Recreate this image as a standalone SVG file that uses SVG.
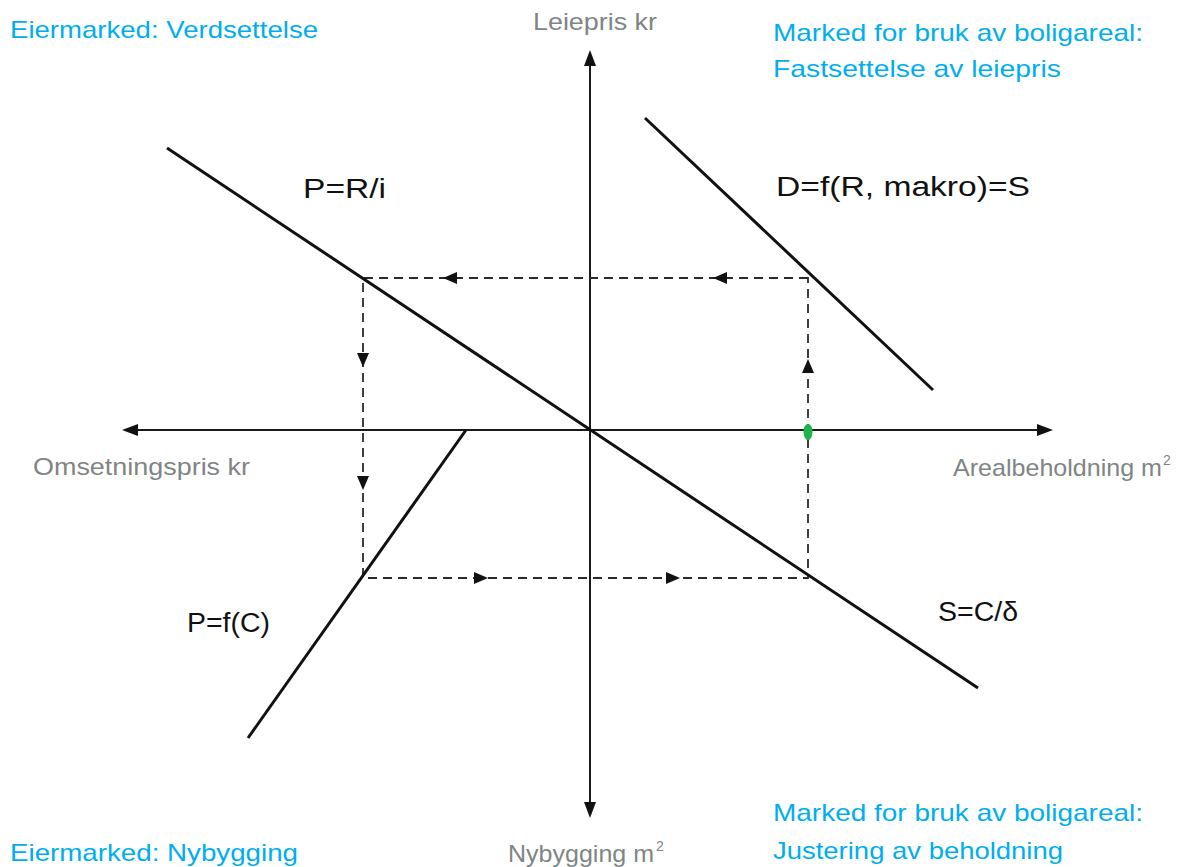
<svg xmlns="http://www.w3.org/2000/svg" width="1200" height="867" viewBox="0 0 1200 867">
<style>
.blue{font-family:"Liberation Sans","Open Sans",sans-serif;font-size:24px;fill:#00aeef}
.gray{font-family:"Liberation Sans","Open Sans",sans-serif;font-size:24px;fill:#7f8585}
.blk{font-family:"Liberation Sans","Open Sans",sans-serif;font-size:27px;fill:#111}
.sup{font-family:"Liberation Sans","Open Sans",sans-serif;font-size:14px;fill:#7f8585}
.axis{stroke:#1a1a1a;stroke-width:2;fill:none}
.curve{stroke:#111;stroke-width:3;fill:none}
.dash{stroke:#2a2a2a;stroke-width:1.8;fill:none;stroke-dasharray:9 6}
.ah{fill:#111}
</style>
<rect width="1200" height="867" fill="#fff"/>
<g id="connectors">
<line class="axis" x1="135" y1="430" x2="1040" y2="430"/>
<line class="axis" x1="590" y1="64" x2="590" y2="804"/>
<polygon class="ah" points="122,430 138,424 138,436"/>
<polygon class="ah" points="1053,430 1037,424 1037,436"/>
<polygon class="ah" points="590,50 584,66 596,66"/>
<polygon class="ah" points="590,818 584,802 596,802"/>
<path class="dash" d="M808,278 L363,278 L363,578 L808,578 Z"/>
<polygon class="ah" points="443,278 457,272 457,284"/>
<polygon class="ah" points="713,278 727,272 727,284"/>
<polygon class="ah" points="363,367 357,353 369,353"/>
<polygon class="ah" points="363,490 357,476 369,476"/>
<polygon class="ah" points="488,578 474,572 474,584"/>
<polygon class="ah" points="680,578 666,572 666,584"/>
<polygon class="ah" points="808,359 802,373 814,373"/>
<ellipse cx="808" cy="432" rx="4.5" ry="8" fill="#1db34a"/>
</g>
<g id="curve-PRi"><line class="curve" x1="167" y1="148" x2="978" y2="688"/></g>
<g id="curve-D"><line class="curve" x1="645" y1="118" x2="933" y2="390"/></g>
<g id="curve-PfC"><line class="curve" x1="466" y1="430" x2="248" y2="738"/></g>
<g id="labels">
<text class="blue" x="10" y="38" textLength="308" lengthAdjust="spacingAndGlyphs">Eiermarked: Verdsettelse</text>
<text class="gray" x="533" y="30" textLength="124" lengthAdjust="spacingAndGlyphs">Leiepris kr</text>
<text class="blue" x="773" y="41" textLength="370" lengthAdjust="spacingAndGlyphs">Marked for bruk av boligareal:</text>
<text class="blue" x="773" y="77" textLength="288" lengthAdjust="spacingAndGlyphs">Fastsettelse av leiepris</text>
<text class="blk" x="303" y="198" textLength="83" lengthAdjust="spacingAndGlyphs">P=R/i</text>
<text class="blk" x="776" y="196" textLength="254" lengthAdjust="spacingAndGlyphs">D=f(R, makro)=S</text>
<text class="gray" x="33" y="475" textLength="217" lengthAdjust="spacingAndGlyphs">Omsetningspris kr</text>
<text class="gray" x="953" y="476" textLength="209" lengthAdjust="spacingAndGlyphs">Arealbeholdning m</text>
<text class="sup" x="1163" y="465">2</text>
<text class="blk" x="187" y="632" textLength="83" lengthAdjust="spacingAndGlyphs">P=f(C)</text>
<text class="blk" x="938" y="621" textLength="80" lengthAdjust="spacingAndGlyphs">S=C/δ</text>
<text class="blue" x="10" y="861" textLength="288" lengthAdjust="spacingAndGlyphs">Eiermarked: Nybygging</text>
<text class="gray" x="508" y="862" textLength="146" lengthAdjust="spacingAndGlyphs">Nybygging m</text>
<text class="sup" x="656" y="851">2</text>
<text class="blue" x="773" y="821" textLength="370" lengthAdjust="spacingAndGlyphs">Marked for bruk av boligareal:</text>
<text class="blue" x="773" y="859" textLength="290" lengthAdjust="spacingAndGlyphs">Justering av beholdning</text>
</g>
</svg>
